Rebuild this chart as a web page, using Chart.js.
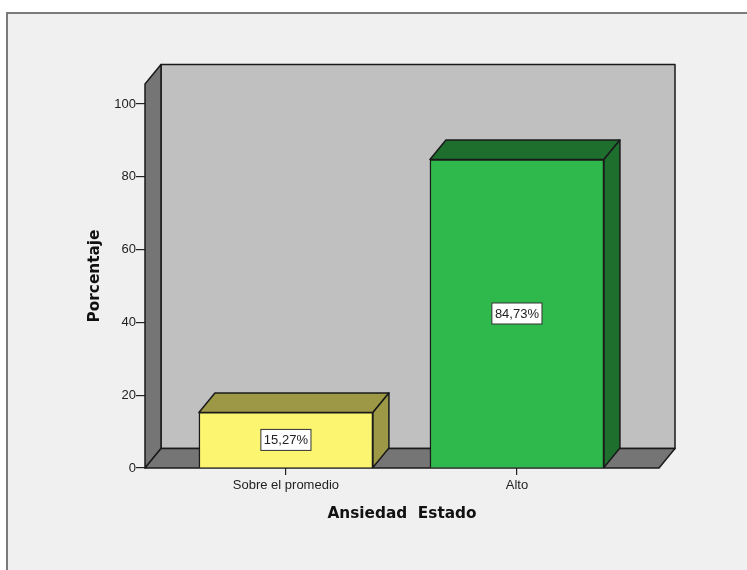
<!DOCTYPE html>
<html>
<head>
<meta charset="utf-8">
<script src="https://cdn.jsdelivr.net/npm/chart.js@4"></script>
<style>
  html, body { margin: 0; padding: 0; background: #fff; overflow: hidden; }
  #frame { position: absolute; left: 6px; top: 12px; width: 741px; height: 558px; box-sizing: border-box;
           background: #f0f0f0; border-top: 2px solid #7a7a7a; border-left: 2px solid #7a7a7a; }
  #wrap { position: absolute; left: 0; top: 0; width: 747px; height: 570px; }
</style>
</head>
<body>
<div id="frame"></div>
<div id="wrap"><canvas id="myChart" width="747" height="570"></canvas></div>
<script>
const categories = ['Sobre el promedio', 'Alto'];
const categoryPositions = [1, 2];
const percentages = [15.27, 84.73];
const percentLabels = ['15,27%', '84,73%'];
const frontColors = ['#fbf56f', '#2fb84b'];
const topColors = ['#9c9845', '#1e6e2e'];

const DEPTH_X = 16;
const DEPTH_Y = 19.5;
const LINE = '#1a1a1a';

function poly(ctx, pts, fill) {
  ctx.beginPath();
  pts.forEach((p, i) => i ? ctx.lineTo(p[0], p[1]) : ctx.moveTo(p[0], p[1]));
  ctx.closePath();
  ctx.fillStyle = fill;
  ctx.fill();
  ctx.lineWidth = 1.5;
  ctx.strokeStyle = LINE;
  ctx.stroke();
}

// walls and floor, plus the top and side faces of the bars
const box3d = {
  id: 'box3d',
  beforeDatasetsDraw(chart) {
    const ctx = chart.ctx;
    const a = chart.chartArea;
    ctx.save();
    ctx.lineJoin = 'round';
    poly(ctx, [[a.left + DEPTH_X, a.top - DEPTH_Y], [a.right + DEPTH_X, a.top - DEPTH_Y],
               [a.right + DEPTH_X, a.bottom - DEPTH_Y], [a.left + DEPTH_X, a.bottom - DEPTH_Y]], '#c0c0c0');
    poly(ctx, [[a.left, a.top], [a.left + DEPTH_X, a.top - DEPTH_Y],
               [a.left + DEPTH_X, a.bottom - DEPTH_Y], [a.left, a.bottom]], '#757575');
    poly(ctx, [[a.left, a.bottom], [a.left + DEPTH_X, a.bottom - DEPTH_Y],
               [a.right + DEPTH_X, a.bottom - DEPTH_Y], [a.right, a.bottom]], '#757575');
    chart.getDatasetMeta(0).data.forEach((bar, i) => {
      const l = bar.x - bar.width / 2;
      const r = bar.x + bar.width / 2;
      poly(ctx, [[l, bar.y], [l + DEPTH_X, bar.y - DEPTH_Y], [r + DEPTH_X, bar.y - DEPTH_Y], [r, bar.y]], topColors[i]);
      poly(ctx, [[r, bar.y], [r + DEPTH_X, bar.y - DEPTH_Y], [r + DEPTH_X, bar.base - DEPTH_Y], [r, bar.base]], topColors[i]);
    });
    ctx.restore();
  },
  afterDatasetsDraw(chart) {
    const ctx = chart.ctx;
    ctx.save();
    ctx.font = '13px "Liberation Sans"';
    ctx.textAlign = 'center';
    ctx.textBaseline = 'middle';
    chart.getDatasetMeta(0).data.forEach((bar, i) => {
      const cy = (bar.y + bar.base) / 2;
      const w = ctx.measureText(percentLabels[i]).width + 6;
      ctx.fillStyle = '#fff';
      ctx.strokeStyle = '#333';
      ctx.lineWidth = 1;
      ctx.fillRect(bar.x - w / 2, cy - 10.5, w, 21);
      ctx.strokeRect(bar.x - w / 2, cy - 10.5, w, 21);
      ctx.fillStyle = '#222';
      ctx.fillText(percentLabels[i], bar.x, cy + 0.5);
    });
    ctx.restore();
  }
};

const ctx = document.getElementById('myChart').getContext('2d');
const myChart = new Chart(ctx, {
  type: 'bar',
  data: {
    datasets: [{
      data: categoryPositions.map((x, i) => ({ x: x, y: percentages[i] })),
      backgroundColor: frontColors,
      borderColor: LINE,
      borderWidth: 1.5,
      barThickness: 174
    }]
  },
  plugins: [box3d],
  options: {
    responsive: false,
    animation: false,
    layout: { padding: { left: 0, top: 84, right: 88, bottom: 0 } },
    plugins: { legend: { display: false }, tooltip: { enabled: false } },
    scales: {
      x: {
        type: 'linear',
        offset: false,
        min: 0.39,
        max: 2.615,
        afterFit: s => { s.height = 102; },
        afterBuildTicks: s => { s.ticks = categoryPositions.map(v => ({ value: v })); },
        grid: { offset: false, drawOnChartArea: false, drawTicks: true, tickLength: 7, color: '#222', lineWidth: 1.2 },
        border: { display: false },
        ticks: {
          autoSkip: false,
          maxRotation: 0,
          padding: 3,
          color: '#222',
          font: { family: 'Liberation Sans', size: 13 },
          callback: v => categories[categoryPositions.indexOf(v)]
        },
        title: {
          display: true,
          text: 'Ansiedad  Estado',
          color: '#111',
          font: { family: 'DejaVu Sans', size: 15.3, weight: 'bold' },
          padding: { top: 0, bottom: 47 }
        }
      },
      y: {
        min: 0,
        max: 105.5,
        afterFit: s => { s.width = 145; },
        grid: { drawOnChartArea: false, drawTicks: true, tickLength: 9, color: '#222', lineWidth: 1.2 },
        border: { display: false },
        ticks: {
          stepSize: 20,
          includeBounds: false,
          padding: 0,
          color: '#222',
          font: { family: 'Liberation Sans', size: 13 }
        },
        title: {
          display: true,
          text: 'Porcentaje',
          color: '#111',
          font: { family: 'DejaVu Sans', size: 15.3, weight: 'bold' },
          padding: { top: 86, bottom: 0 }
        }
      }
    }
  }
});
</script>
</body>
</html>
